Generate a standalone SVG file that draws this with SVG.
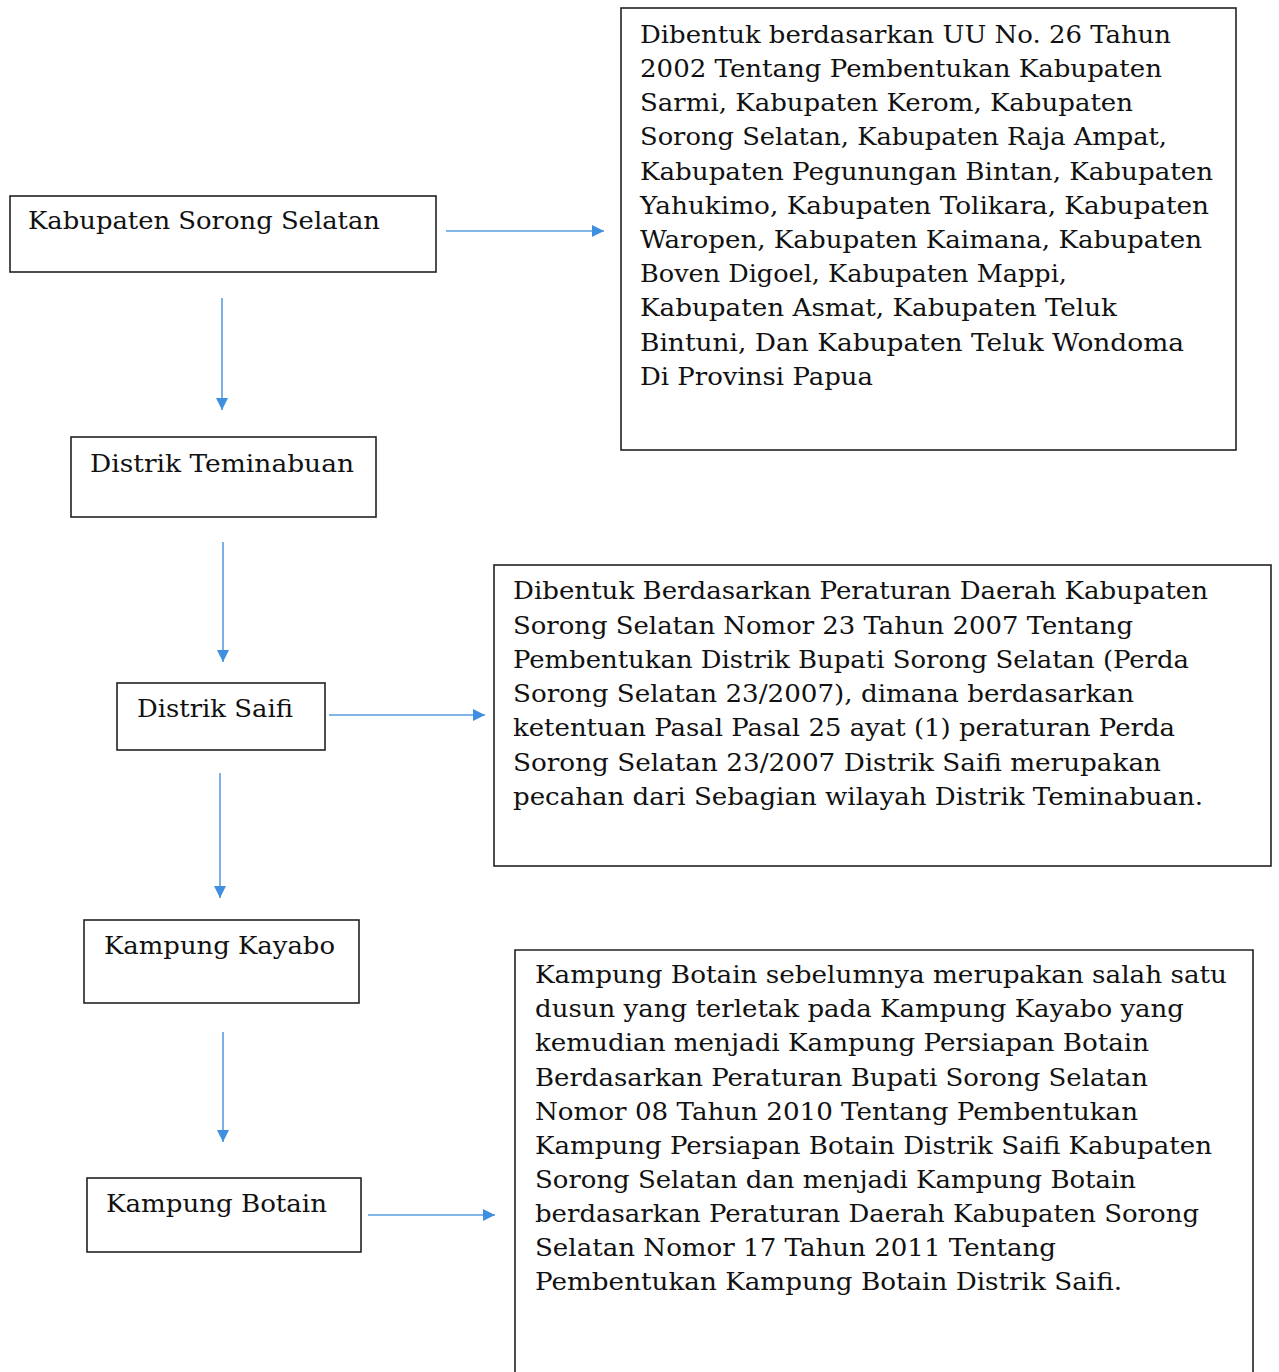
<svg xmlns="http://www.w3.org/2000/svg" width="1279" height="1372" viewBox="0 0 1279 1372">
<style>
.box{fill:#fff;stroke:#222;stroke-width:1.6}
.t{font-family:"DejaVu Serif","Liberation Serif",serif;font-size:24px;fill:#111}
.c{stroke:#5a9ee0;stroke-width:1.6;fill:none}
</style>
<defs>
<marker id="ah" viewBox="0 0 10 10" refX="10" refY="5" markerWidth="12" markerHeight="12" markerUnits="userSpaceOnUse" orient="auto">
<path d="M0,0 L10,5 L0,10 Z" fill="#3f8fe0"/>
</marker>
</defs>
<rect width="1279" height="1372" fill="#fff"/>
<g id="connectors">
<line class="c" x1="446" y1="231" x2="604" y2="231" marker-end="url(#ah)"/>
<line class="c" x1="222" y1="298" x2="222" y2="410" marker-end="url(#ah)"/>
<line class="c" x1="223" y1="542" x2="223" y2="662" marker-end="url(#ah)"/>
<line class="c" x1="329" y1="715" x2="485" y2="715" marker-end="url(#ah)"/>
<line class="c" x1="220" y1="773" x2="220" y2="898" marker-end="url(#ah)"/>
<line class="c" x1="223" y1="1032" x2="223" y2="1142" marker-end="url(#ah)"/>
<line class="c" x1="368" y1="1215" x2="495" y2="1215" marker-end="url(#ah)"/>
</g>
<g id="n-kabupaten">
<rect class="box" x="10" y="196" width="426" height="76"/>
<text class="t" x="28" y="229" textLength="352" lengthAdjust="spacingAndGlyphs">Kabupaten Sorong Selatan</text>
</g>
<g id="n-teminabuan">
<rect class="box" x="71" y="437" width="305" height="80"/>
<text class="t" x="90" y="472" textLength="264" lengthAdjust="spacingAndGlyphs">Distrik Teminabuan</text>
</g>
<g id="n-saifi">
<rect class="box" x="117" y="683" width="208" height="67"/>
<text class="t" x="137" y="717" textLength="156" lengthAdjust="spacingAndGlyphs">Distrik Saifi</text>
</g>
<g id="n-kayabo">
<rect class="box" x="84" y="920" width="275" height="83"/>
<text class="t" x="104" y="954" textLength="231" lengthAdjust="spacingAndGlyphs">Kampung Kayabo</text>
</g>
<g id="n-botain">
<rect class="box" x="87" y="1178" width="274" height="74"/>
<text class="t" x="106" y="1212" textLength="221" lengthAdjust="spacingAndGlyphs">Kampung Botain</text>
</g>
<g id="n-note1">
<rect class="box" x="621" y="8" width="615" height="442"/>
<text class="t" x="640" y="43" textLength="531" lengthAdjust="spacingAndGlyphs">Dibentuk berdasarkan UU No. 26 Tahun</text>
<text class="t" x="640" y="77" textLength="522" lengthAdjust="spacingAndGlyphs">2002 Tentang Pembentukan Kabupaten</text>
<text class="t" x="640" y="111" textLength="493" lengthAdjust="spacingAndGlyphs">Sarmi, Kabupaten Kerom, Kabupaten</text>
<text class="t" x="640" y="145" textLength="527" lengthAdjust="spacingAndGlyphs">Sorong Selatan, Kabupaten Raja Ampat,</text>
<text class="t" x="640" y="180" textLength="573" lengthAdjust="spacingAndGlyphs">Kabupaten Pegunungan Bintan, Kabupaten</text>
<text class="t" x="640" y="214" textLength="569" lengthAdjust="spacingAndGlyphs">Yahukimo, Kabupaten Tolikara, Kabupaten</text>
<text class="t" x="640" y="248" textLength="562" lengthAdjust="spacingAndGlyphs">Waropen, Kabupaten Kaimana, Kabupaten</text>
<text class="t" x="640" y="282" textLength="427" lengthAdjust="spacingAndGlyphs">Boven Digoel, Kabupaten Mappi,</text>
<text class="t" x="640" y="316" textLength="477" lengthAdjust="spacingAndGlyphs">Kabupaten Asmat, Kabupaten Teluk</text>
<text class="t" x="640" y="351" textLength="544" lengthAdjust="spacingAndGlyphs">Bintuni, Dan Kabupaten Teluk Wondoma</text>
<text class="t" x="640" y="385" textLength="233" lengthAdjust="spacingAndGlyphs">Di Provinsi Papua</text>
</g>
<g id="n-note2">
<rect class="box" x="494" y="565" width="777" height="301"/>
<text class="t" x="513" y="599" textLength="695" lengthAdjust="spacingAndGlyphs">Dibentuk Berdasarkan Peraturan Daerah Kabupaten</text>
<text class="t" x="513" y="634" textLength="620" lengthAdjust="spacingAndGlyphs">Sorong Selatan Nomor 23 Tahun 2007 Tentang</text>
<text class="t" x="513" y="668" textLength="676" lengthAdjust="spacingAndGlyphs">Pembentukan Distrik Bupati Sorong Selatan (Perda</text>
<text class="t" x="513" y="702" textLength="621" lengthAdjust="spacingAndGlyphs">Sorong Selatan 23/2007), dimana berdasarkan</text>
<text class="t" x="513" y="736" textLength="662" lengthAdjust="spacingAndGlyphs">ketentuan Pasal Pasal 25 ayat (1) peraturan Perda</text>
<text class="t" x="513" y="771" textLength="648" lengthAdjust="spacingAndGlyphs">Sorong Selatan 23/2007 Distrik Saifi merupakan</text>
<text class="t" x="513" y="805" textLength="690" lengthAdjust="spacingAndGlyphs">pecahan dari Sebagian wilayah Distrik Teminabuan.</text>
</g>
<g id="n-note3">
<path class="box" d="M515,1380 V950 H1253 V1380"/>
<text class="t" x="535" y="983" textLength="692" lengthAdjust="spacingAndGlyphs">Kampung Botain sebelumnya merupakan salah satu</text>
<text class="t" x="535" y="1017" textLength="649" lengthAdjust="spacingAndGlyphs">dusun yang terletak pada Kampung Kayabo yang</text>
<text class="t" x="535" y="1051" textLength="614" lengthAdjust="spacingAndGlyphs">kemudian menjadi Kampung Persiapan Botain</text>
<text class="t" x="535" y="1086" textLength="613" lengthAdjust="spacingAndGlyphs">Berdasarkan Peraturan Bupati Sorong Selatan</text>
<text class="t" x="535" y="1120" textLength="603" lengthAdjust="spacingAndGlyphs">Nomor 08 Tahun 2010 Tentang Pembentukan</text>
<text class="t" x="535" y="1154" textLength="677" lengthAdjust="spacingAndGlyphs">Kampung Persiapan Botain Distrik Saifi Kabupaten</text>
<text class="t" x="535" y="1188" textLength="601" lengthAdjust="spacingAndGlyphs">Sorong Selatan dan menjadi Kampung Botain</text>
<text class="t" x="535" y="1222" textLength="664" lengthAdjust="spacingAndGlyphs">berdasarkan Peraturan Daerah Kabupaten Sorong</text>
<text class="t" x="535" y="1256" textLength="521" lengthAdjust="spacingAndGlyphs">Selatan Nomor 17 Tahun 2011 Tentang</text>
<text class="t" x="535" y="1290" textLength="587" lengthAdjust="spacingAndGlyphs">Pembentukan Kampung Botain Distrik Saifi.</text>
</g>
</svg>
